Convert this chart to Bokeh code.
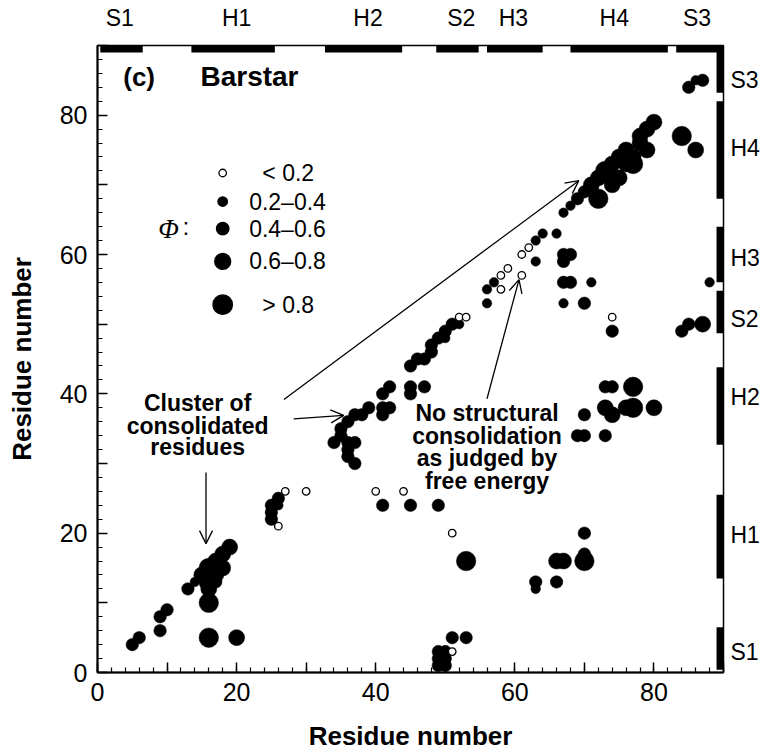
from bokeh.plotting import figure
from bokeh.models import (Range1d, SingleIntervalTicker, FixedTicker, LinearAxis,
                          ColumnDataSource, Label, Arrow, OpenHead)
from bokeh.embed import file_html
from bokeh.resources import INLINE

# ---------------- data ----------------
# contact pairs (residue i, residue j) and phi class
# phi class: 0 = <0.2, 1 = 0.2-0.4, 2 = 0.4-0.6, 3 = 0.6-0.8, 4 = >0.8
res_i = [5, 6, 9, 9, 10, 13, 14,
         16, 16, 20,
         15, 16, 16, 17, 18, 19, 17, 18, 16, 17,
         25, 25, 25, 26, 26, 26, 27, 30,
         34, 35, 35, 36, 37, 38, 39, 36, 37, 36, 37, 36,
         41, 42, 41, 41, 42, 45, 45, 47, 45, 46, 47,
         48, 48, 49, 50, 50, 51, 52, 52, 53,
         56, 56, 57, 58, 58, 59, 61, 62, 61, 63, 64, 66, 63, 67, 68, 67,
         67, 68, 71, 67, 70, 88,
         74, 74, 84, 85, 87,
         73, 74, 77, 73, 74, 76, 77, 80, 70, 69, 70, 73,
         66, 67, 70, 70, 70, 66, 63, 63, 53, 51,
         49, 49, 49, 50, 50, 50, 51, 51, 53,
         41, 45, 49, 40, 44,
         67, 68, 69, 70, 71, 72, 72, 73, 74, 75, 75, 76, 77, 77, 78, 78, 79, 79, 80, 74, 76,
         84, 86, 85, 86, 87]
res_j = [4, 5, 6, 8, 9, 12, 13,
         5, 10, 5,
         14, 13, 15, 16, 17, 18, 14, 15, 12, 13,
         22, 23, 24, 25, 24, 21, 26, 26,
         33, 34, 35, 36, 37, 37, 38, 33, 33, 31, 30, 32,
         38, 38, 37, 40, 41, 41, 40, 41, 44, 45, 45,
         46, 47, 48, 49, 48, 50, 50, 51, 51,
         53, 55, 56, 55, 57, 58, 60, 61, 57, 62, 63, 63, 59, 60, 60, 59,
         56, 56, 56, 53, 53, 56,
         51, 49, 49, 50, 50,
         41, 41, 41, 38, 37, 38, 38, 38, 37, 34, 34, 34,
         16, 16, 16, 17, 20, 13, 13, 12, 16, 20,
         1, 2, 3, 1, 2, 3, 3, 5, 5,
         24, 24, 24, 26, 26,
         66, 67, 68, 69, 70, 71, 68, 72, 70, 71, 74, 75, 73, 74, 76, 77, 75, 78, 79, 73, 73,
         77, 75, 84, 85, 85]
phi_class = [2, 2, 2, 2, 2, 2, 1,
             4, 4, 3,
             3, 4, 4, 3, 3, 3, 3, 3, 3, 2,
             2, 2, 2, 2, 1, 0, 0, 0,
             2, 2, 2, 2, 2, 2, 2, 2, 2, 2, 2, 2,
             2, 2, 2, 2, 2, 2, 2, 2, 2, 2, 2,
             2, 2, 2, 2, 1, 2, 1, 0, 0,
             1, 1, 1, 0, 0, 0, 0, 0, 0, 1, 1, 1, 1, 2, 2, 2,
             2, 2, 1, 1, 2, 1,
             0, 2, 2, 2, 3,
             2, 2, 4, 3, 3, 3, 4, 3, 2, 2, 2, 2,
             3, 3, 4, 2, 2, 2, 2, 1, 4, 0,
             2, 2, 2, 2, 2, 2, 0, 2, 2,
             2, 2, 2, 0, 0,
             1, 1, 2, 2, 3, 3, 4, 4, 3, 3, 3, 3, 4, 3, 3, 3, 3, 3, 3, 3, 3,
             4, 3, 2, 1, 2]

# secondary structure elements (residue ranges) and where their names sit
ss_names = ["S1", "H1", "H2", "S2", "H3", "H4", "S3"]
ss_start = [0.4, 13.5, 32.7, 48.7, 56.0, 68.0, 83.2]
ss_end = [6.5, 25.5, 43.8, 54.8, 64.0, 82.0, 90.0]
ss_label_top = [3.2, 20.0, 38.9, 52.3, 59.8, 74.3, 86.2]
ss_label_right = [2.9, 19.7, 39.6, 50.8, 59.5, 75.3, 85.1]

# phi legend
legend_labels = ["< 0.2", "0.2\u20130.4", "0.4\u20130.6", "0.6\u20130.8", "> 0.8"]
legend_classes = [0, 1, 2, 3, 4]

# ---------------- styling ----------------
FONT = "Liberation Sans"
size_map = [7.5, 9.5, 12.5, 16, 19.5]

def split(cls_keep):
    xs, ys, ss = [], [], []
    for i, j, c in zip(res_i, res_j, phi_class):
        if c in cls_keep:
            xs.append(i); ys.append(j); ss.append(size_map[c])
    return ColumnDataSource(dict(x=xs, y=ys, s=ss))

p = figure(width=770, height=753, x_range=Range1d(0, 90), y_range=Range1d(0, 90),
           output_backend="svg", toolbar_location=None,
           min_border_left=97, min_border_right=47, min_border_top=45, min_border_bottom=81)
p.xgrid.visible = False
p.ygrid.visible = False
p.outline_line_color = "black"
p.outline_line_width = 1.5
p.background_fill_color = "white"
p.border_fill_color = "white"

for ax in (p.xaxis[0], p.yaxis[0]):
    ax.ticker = SingleIntervalTicker(interval=10, num_minor_ticks=5)
    ax.major_label_overrides = {10: "", 30: "", 50: "", 70: "", 90: ""}
    ax.major_tick_in = 10
    ax.major_tick_out = 0
    ax.minor_tick_in = 5
    ax.minor_tick_out = 0
    ax.major_tick_line_width = 1.5
    ax.minor_tick_line_width = 1.2
    ax.axis_line_width = 2
    ax.major_label_text_font = FONT
    ax.major_label_text_font_size = "25px"
    ax.major_label_text_color = "black"
    ax.axis_label = "Residue number"
    ax.axis_label_text_font = FONT
    ax.axis_label_text_font_style = "bold"
    ax.axis_label_text_font_size = "26px"
    ax.axis_label_text_color = "black"

p.xaxis.major_label_standoff = 10
p.xaxis.axis_label_standoff = 17
p.yaxis.major_label_standoff = 10
p.yaxis.axis_label_standoff = 20

# secondary structure bars (top and right)
ss_src = ColumnDataSource(dict(start=ss_start, end=ss_end))
p.quad(left="start", right="end", bottom=89.0, top=90.0, source=ss_src,
       fill_color="black", line_color=None)
p.quad(left=89.0, right=90.0, bottom="start", top="end", source=ss_src,
       fill_color="black", line_color=None)

# secondary structure names via label-only axes (top and right)
for loc, std, pos in (("above", 9, ss_label_top), ("right", 1, ss_label_right)):
    sax = LinearAxis(ticker=FixedTicker(ticks=pos, minor_ticks=[]),
                     major_label_overrides={m: n for m, n in zip(pos, ss_names)},
                     axis_line_color=None, major_tick_line_color=None,
                     minor_tick_line_color=None, major_label_standoff=std,
                     major_label_text_font=FONT, major_label_text_font_size="23px",
                     major_label_text_color="black")
    p.add_layout(sax, loc)

# contact points
filled = split({1, 2, 3, 4})
opened = split({0})
p.scatter("x", "y", size="s", source=filled, marker="circle",
          fill_color="black", line_color="black", line_width=0.5)
p.scatter("x", "y", size="s", source=opened, marker="circle",
          fill_color="white", line_color="black", line_width=1.3)

# legend (phi classes)
leg_y = [71.7, 67.6, 63.7, 59.0, 52.8]
leg_text_x = [23.7, 21.8, 21.8, 21.8, 23.7]
leg_src = ColumnDataSource(dict(x=[18.0] * 5, y=leg_y,
                                s=[size_map[c] for c in legend_classes],
                                fc=["white" if c == 0 else "black" for c in legend_classes]))
p.scatter("x", "y", size="s", source=leg_src, marker="circle",
          fill_color="fc", line_color="black", line_width=1.3)
for lab, tx, ty in zip(legend_labels, leg_text_x, leg_y):
    p.add_layout(Label(x=tx, y=ty, text=lab, text_align="left", text_baseline="middle",
                       text_font=FONT, text_font_size="23px", text_color="black"))
p.add_layout(Label(x=10.2, y=63.7, text="\u03A6", text_align="center", text_baseline="middle",
                   text_font="Liberation Serif", text_font_style="italic",
                   text_font_size="27px", text_color="black"))
p.add_layout(Label(x=12.7, y=63.9, text=":", text_align="center", text_baseline="middle",
                   text_font=FONT, text_font_size="23px", text_color="black"))

# panel title
p.add_layout(Label(x=3.7, y=85.5, text="(c)", text_align="left", text_baseline="middle",
                   text_font=FONT, text_font_style="bold", text_font_size="26px",
                   text_color="black"))
p.add_layout(Label(x=14.8, y=85.5, text="Barstar", text_align="left", text_baseline="middle",
                   text_font=FONT, text_font_style="bold", text_font_size="28px",
                   text_color="black"))

# annotations
cluster_lines = ["Cluster of", "consolidated", "residues"]
cluster_y = [38.7, 35.4, 32.3]
for t, yy in zip(cluster_lines, cluster_y):
    p.add_layout(Label(x=14.4, y=yy, text=t, text_align="center", text_baseline="middle",
                       text_font=FONT, text_font_style="bold", text_font_size="23px",
                       text_color="black"))
nocons_lines = ["No structural", "consolidation", "as judged by", "free energy"]
nocons_y = [37.3, 34.0, 30.8, 27.5]
for t, yy in zip(nocons_lines, nocons_y):
    p.add_layout(Label(x=56.0, y=yy, text=t, text_align="center", text_baseline="middle",
                       text_font=FONT, text_font_style="bold", text_font_size="23px",
                       text_color="black"))

arrows = [  # (x_start, y_start, x_end, y_end)
    (26.8, 39.2, 69.2, 70.6),
    (28.2, 36.4, 35.4, 36.9),
    (15.6, 28.7, 15.6, 18.5),
    (56.0, 39.3, 60.6, 56.4),
]
for xs, ys, xe, ye in arrows:
    p.add_layout(Arrow(end=OpenHead(size=13, line_width=1.3, line_color="black"),
                       x_start=xs, y_start=ys, x_end=xe, y_end=ye,
                       line_width=1.3, line_color="black"))

open("out.html", "w").write(file_html(p, INLINE))
